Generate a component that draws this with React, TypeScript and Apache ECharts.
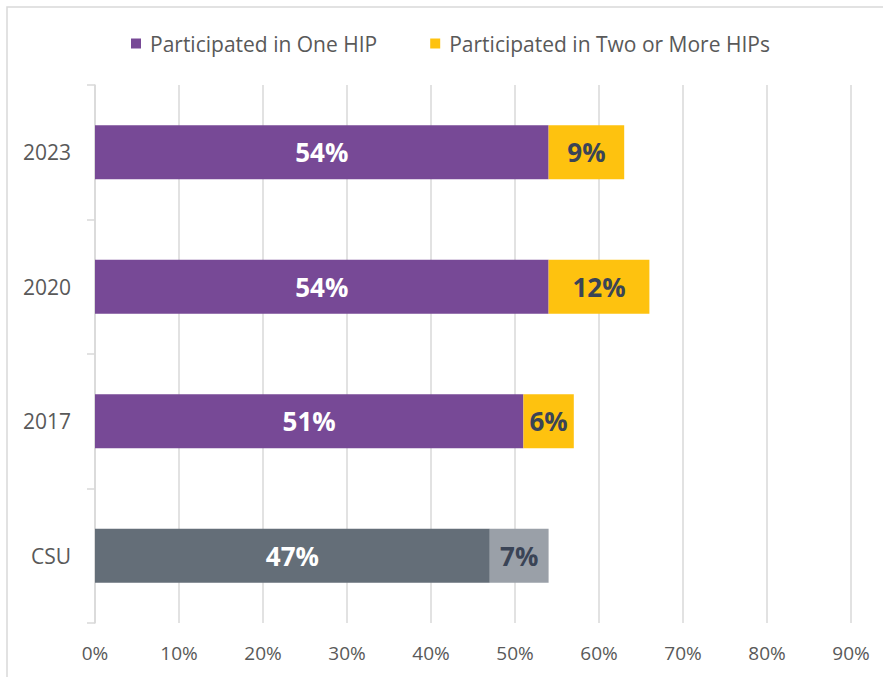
import React, { useEffect, useRef } from "react";
import * as echarts from "echarts";

const categories = ["CSU", "2017", "2020", "2023"];
const oneHip = [47, 51, 54, 54];
const twoPlusHip = [7, 6, 12, 9];
const xTicks = [0, 10, 20, 30, 40, 50, 60, 70, 80, 90];

const PURPLE = "#774996";
const YELLOW = "#FEC20F";
const CSU_DARK = "#646E78";
const CSU_LIGHT = "#9AA0A8";
const DARK_LABEL = "#3A4456";

export default function App() {
  const ref = useRef<HTMLDivElement>(null);
  useEffect(() => {
    if (!ref.current) return;
    const chart = echarts.init(ref.current, null, { renderer: "svg" });
    const labelBase = {
      show: true,
      position: "inside",
      fontFamily: "'Open Sans', sans-serif",
      fontWeight: "bold",
      fontSize: 26,
      formatter: (p: any) => `${p.value}%`,
    };
    chart.setOption({
      animation: false,
      backgroundColor: "#ffffff",
      graphic: [
        {
          type: "rect",
          shape: { x: 7, y: 7, width: 900, height: 700 },
          style: { fill: "none", stroke: "#D9D9D9", lineWidth: 1.5 },
          silent: true,
        },
      ],
      legend: {
        left: 126,
        top: 28,
        itemWidth: 10,
        itemHeight: 10,
        itemGap: 53,
        icon: "rect",
        textStyle: {
          fontFamily: "'Open Sans', sans-serif",
          fontSize: 21,
          color: "#595959",
          padding: [0, 0, 0, 4],
        },
        data: ["Participated in One HIP", "Participated in Two or More HIPs"],
      },
      grid: { left: 95, right: 32, top: 85, bottom: 54, containLabel: false },
      xAxis: {
        type: "value",
        min: 0,
        max: 90,
        interval: 10,
        axisLine: { show: false },
        axisTick: { show: false },
        splitLine: { show: true, lineStyle: { color: "#D9D9D9", width: 1.5 } },
        axisLabel: {
          formatter: (v: number) => (xTicks.includes(v) ? `${v}%` : ""),
          fontFamily: "'Open Sans', sans-serif",
          fontSize: 19,
          color: "#595959",
          margin: 20,
        },
      },
      yAxis: {
        type: "category",
        data: categories,
        axisLine: { show: true, lineStyle: { color: "#D9D9D9", width: 1.5 } },
        axisTick: { show: true, length: 8, lineStyle: { color: "#D9D9D9", width: 1.5 } },
        axisLabel: {
          fontFamily: "'Open Sans', sans-serif",
          fontSize: 21,
          color: "#595959",
          margin: 24,
        },
      },
      series: [
        {
          name: "Participated in One HIP",
          type: "bar",
          stack: "total",
          barWidth: 54,
          itemStyle: { color: PURPLE },
          label: { ...labelBase, color: "#ffffff" },
          data: oneHip.map((v, i) =>
            categories[i] === "CSU"
              ? { value: v, itemStyle: { color: CSU_DARK } }
              : v
          ),
        },
        {
          name: "Participated in Two or More HIPs",
          type: "bar",
          stack: "total",
          barWidth: 54,
          itemStyle: { color: YELLOW },
          label: { ...labelBase, color: DARK_LABEL },
          data: twoPlusHip.map((v, i) =>
            categories[i] === "CSU"
              ? { value: v, itemStyle: { color: CSU_LIGHT } }
              : v
          ),
        },
      ],
    });
    return () => chart.dispose();
  }, []);
  return (
    <div
      ref={ref}
      style={{ position: "fixed", left: 0, top: 0, width: 883, height: 677 }}
    />
  );
}
